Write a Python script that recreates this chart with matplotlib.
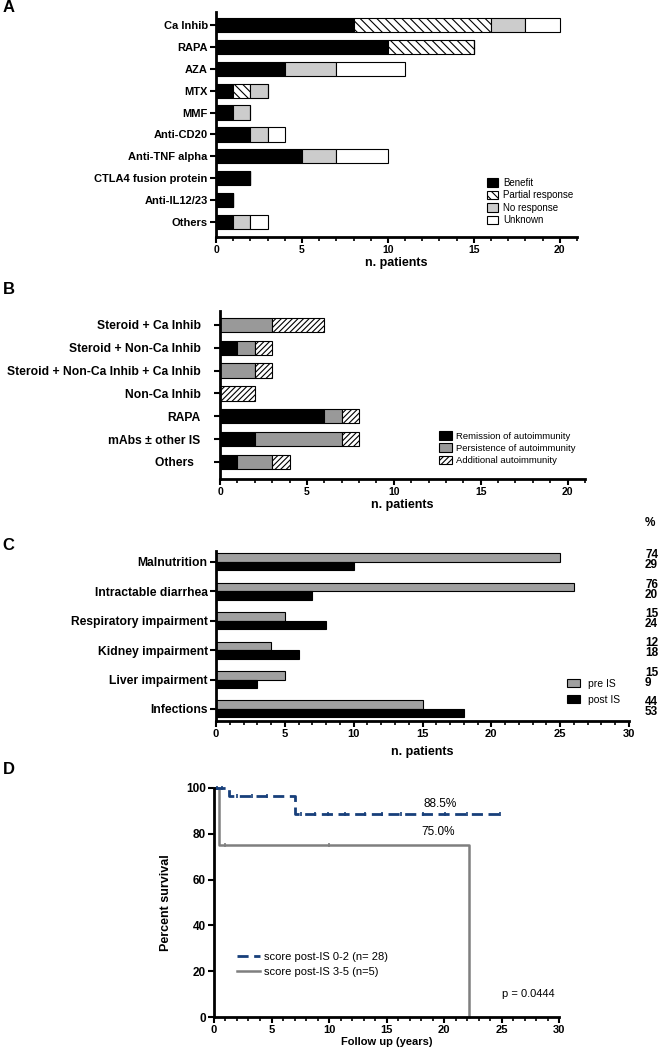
#=========================================================================
# immunosuppression outcomes, four panels
#=========================================================================

import matplotlib
matplotlib.use('Agg')
import matplotlib.pyplot as plt
import matplotlib.transforms as mtransforms
from matplotlib.ticker import MultipleLocator
import numpy as np

plt.rcParams['font.family'] = ['Liberation Sans', 'DejaVu Sans']
plt.rcParams['hatch.linewidth'] = 0.8

#-------------------------------------------------------------------------
# Raw data
#-------------------------------------------------------------------------

# Panel A: response per drug

drugs_a = ['Ca Inhib', 'RAPA', 'AZA', 'MTX', 'MMF', 'Anti-CD20',
           'Anti-TNF alpha', 'CTLA4 fusion protein', 'Anti-IL12/23', 'Others']
benefit = [8, 10, 4, 1, 1, 2, 5, 2, 1, 1]
partial = [8, 5, 0, 1, 0, 0, 0, 0, 0, 0]
no_resp = [2, 0, 3, 1, 1, 1, 2, 0, 0, 1]
unknown = [2, 0, 4, 0, 0, 1, 3, 0, 0, 1]

# Panel B: autoimmunity per regimen

regimens_b = ['Steroid + Ca Inhib', 'Steroid + Non-Ca Inhib',
              'Steroid + Non-Ca Inhib + Ca Inhib', 'Non-Ca Inhib', 'RAPA',
              'mAbs \u00b1 other IS', 'Others  ']
remission   = [0, 1, 0, 0, 6, 2, 1]
persistence = [3, 1, 2, 0, 1, 5, 2]
additional  = [3, 1, 1, 2, 1, 1, 1]

# Panel C: complications pre / post IS

compl_c  = ['Malnutrition', 'Intractable diarrhea', 'Respiratory impairment',
            'Kidney impairment', 'Liver impairment', 'Infections']
pre_is   = [25, 26, 5, 4, 5, 15]
post_is  = [10, 7, 8, 6, 3, 18]
pre_pct  = ['74', '76', '15', '12', '15', '44']
post_pct = ['29', '20', '24', '18', '9', '53']

# Panel D: survival curves

low_t  = [0, 1.3, 7.0, 24.9]
low_s  = [100, 96.4, 88.5, 88.5]
low_cens_t = [0.3, 0.7, 2.0, 3.3, 4.6, 7.6, 8.8, 9.9, 11.4, 13.1,
              14.6, 16.3, 18.2, 20.1, 22.0, 24.9]
high_t = [0, 0.45, 22.2]
high_s = [100, 75, 0]
high_cens_t = [1.0, 10.0]

#-------------------------------------------------------------------------
# Helpers
#-------------------------------------------------------------------------

W, H = 659.0, 1050.0

def px_axes( left, top, right, bottom ):
  # axes rectangle from pixel edges (origin top-left)
  return [left/W, 1 - bottom/H, (right - left)/W, (bottom - top)/H]

def style_axis( ax, xsize=8 ):
  ax.spines['right'].set_visible(False)
  ax.spines['top'].set_visible(False)
  ax.spines['left'].set_linewidth(2.0)
  ax.spines['bottom'].set_linewidth(2.0)
  ax.tick_params(axis='both', which='major', width=1.5, length=4, pad=2)
  ax.tick_params(axis='x', which='minor', width=1.2, length=3)
  ax.tick_params(axis='x', labelsize=xsize)
  ax.xaxis.set_minor_locator(MultipleLocator(1))
  for lab in ax.get_xticklabels() + ax.get_yticklabels():
    lab.set_fontweight('bold')

def panel_letter( y_px, letter ):
  fig.text(0.004, 1 - y_px/H, letter, fontsize=12, fontweight='bold',
           va='center', ha='left')

#-------------------------------------------------------------------------
# Create figure
#-------------------------------------------------------------------------

fig = plt.figure(figsize=(6.59, 10.5), dpi=100)

# Panel A ----------------------------------------------------------------

ax = fig.add_axes(px_axes(216, 12, 577, 237))
y = np.arange(len(drugs_a))
left = np.zeros(len(drugs_a))
series = [
  (benefit, 'black',   None,       'Benefit'),
  (partial, 'white',   '\\\\\\\\', 'Partial response'),
  (no_resp, '#cccccc', None,       'No response'),
  (unknown, 'white',   None,       'Unknown'),
]
for vals, col, hat, lab in series:
  ax.barh(y, vals, 0.65, left=left, color=col, edgecolor='black',
          linewidth=0.8, hatch=hat, label=lab)
  left += np.array(vals)
ax.set_yticks(y)
ax.set_yticklabels(drugs_a, fontsize=8)
ax.set_ylim(len(drugs_a) - 0.32, -0.59)
ax.set_xlim(0, 21)
ax.set_xticks([0, 5, 10, 15, 20])
ax.set_xlabel('n. patients', fontsize=9, fontweight='bold', labelpad=1)
style_axis(ax, 7.5)
ax.legend(loc='lower right', bbox_to_anchor=(1.0, 0.035), frameon=False,
          fontsize=7, handlelength=1.1, handleheight=1.0,
          handletextpad=0.5, labelspacing=0.25, borderaxespad=0)
panel_letter(8, 'A')

# Panel B ----------------------------------------------------------------

ax = fig.add_axes(px_axes(220, 311, 585, 479))
y = np.arange(len(regimens_b))
left = np.zeros(len(regimens_b))
series = [
  (remission,   'black',   None,     'Remission of autoimmunity'),
  (persistence, '#999999', None,     'Persistence of autoimmunity'),
  (additional,  'white',   '//////', 'Additional autoimmunity'),
]
for vals, col, hat, lab in series:
  ax.barh(y, vals, 0.63, left=left, color=col, edgecolor='black',
          linewidth=0.8, hatch=hat, label=lab)
  left += np.array(vals)
ax.set_yticks(y)
ax.set_yticklabels(regimens_b, fontsize=8.7)
ax.set_ylim(len(regimens_b) - 0.25, -0.61)
ax.set_xlim(0, 21)
ax.set_xticks([0, 5, 10, 15, 20])
ax.set_xlabel('n. patients', fontsize=9, fontweight='bold', labelpad=1)
style_axis(ax, 7.5)
ax.tick_params(axis='y', pad=10)
ax.legend(loc='lower right', bbox_to_anchor=(0.985, 0.06), frameon=False,
          fontsize=6.8, handlelength=1.3, handleheight=1.0,
          handletextpad=0.5, labelspacing=0.3, borderaxespad=0)
panel_letter(289, 'B')

# Panel C ----------------------------------------------------------------

ax = fig.add_axes(px_axes(216, 551, 629, 721))
y = np.arange(len(compl_c))
bh = 0.29
ax.barh(y - bh/2, pre_is, bh, color='#a0a0a0', edgecolor='black',
        linewidth=0.8, label='pre IS')
ax.barh(y + bh/2, post_is, bh, color='black', edgecolor='black',
        linewidth=0.8, label='post IS')
ax.set_yticks(y)
ax.set_yticklabels(compl_c, fontsize=8.7)
ax.set_ylim(len(compl_c) - 0.59, -0.37)
ax.set_xlim(0, 30)
ax.set_xticks([0, 5, 10, 15, 20, 25, 30])
ax.set_xlabel('n. patients', fontsize=9, fontweight='bold', labelpad=5)
style_axis(ax, 8)

trans = mtransforms.blended_transform_factory(ax.transAxes, ax.transData)
for i in range(len(compl_c)):
  ax.text(1.039, y[i] - bh/2 - 0.08, pre_pct[i], transform=trans,
          fontsize=8.5, fontweight='bold', ha='left', va='center')
  ax.text(1.039, y[i] + bh/2 - 0.03, post_pct[i], transform=trans,
          fontsize=8.5, fontweight='bold', ha='left', va='center')
ax.text(1.039, 1.165, '%', transform=ax.transAxes, fontsize=8.5,
        fontweight='bold', ha='left', va='center')
ax.legend(loc='lower right', bbox_to_anchor=(0.988, 0.07), frameon=False,
          fontsize=7.5, handlelength=1.25, handleheight=0.8,
          handletextpad=0.75, labelspacing=0.6, borderaxespad=0)
panel_letter(545, 'C')

# Panel D ----------------------------------------------------------------

ax = fig.add_axes(px_axes(214, 788, 559, 1017))
blue = '#173f7a'
grey = '#7f7f7f'
ax.step(high_t, high_s, where='post', color=grey, linewidth=1.8,
        clip_on=False, label='score post-IS 3-5 (n=5)')
ax.step(low_t, low_s, where='post', color=blue, linewidth=2.0,
        linestyle=(0, (4, 2)), clip_on=False,
        label='score post-IS 0-2 (n= 28)')
low_cens_s = [low_s[np.searchsorted(low_t, t, side='right') - 1]
              for t in low_cens_t]
ax.plot(low_cens_t, low_cens_s, linestyle='none', marker='|',
        markersize=3.5, color=blue, mew=1.2, clip_on=False)
high_cens_s = [high_s[np.searchsorted(high_t, t, side='right') - 1]
               for t in high_cens_t]
ax.plot(high_cens_t, high_cens_s, linestyle='none', marker='|',
        markersize=3.5, color=grey, mew=1.2, clip_on=False)
ax.set_xlim(0, 30)
ax.set_ylim(0, 100)
ax.set_xticks([0, 5, 10, 15, 20, 25, 30])
ax.set_yticks([0, 20, 40, 60, 80, 100])
ax.tick_params(axis='y', labelsize=8.5)
ax.set_xlabel('Follow up (years)', fontsize=8, fontweight='bold',
              labelpad=1)
ax.set_ylabel('Percent survival', fontsize=9, fontweight='bold',
              labelpad=10)
style_axis(ax, 8)

ax.text(19.7, 93.0, '88.5%', fontsize=8.5, ha='center', va='center')
ax.text(19.5, 80.8, '75.0%', fontsize=8.5, ha='center', va='center')
ax.text(27.3, 10.0, 'p = 0.0444', fontsize=8, ha='center', va='center')

hnd, lab = ax.get_legend_handles_labels()
ax.legend(hnd[::-1], lab[::-1], loc='lower left',
          bbox_to_anchor=(0.055, 0.155), frameon=False, fontsize=8,
          handlelength=2.0, handletextpad=0.4, labelspacing=0.5,
          borderaxespad=0)
panel_letter(770, 'D')

#-------------------------------------------------------------------------
# Save
#-------------------------------------------------------------------------

fig.savefig('out.png', dpi=100)
